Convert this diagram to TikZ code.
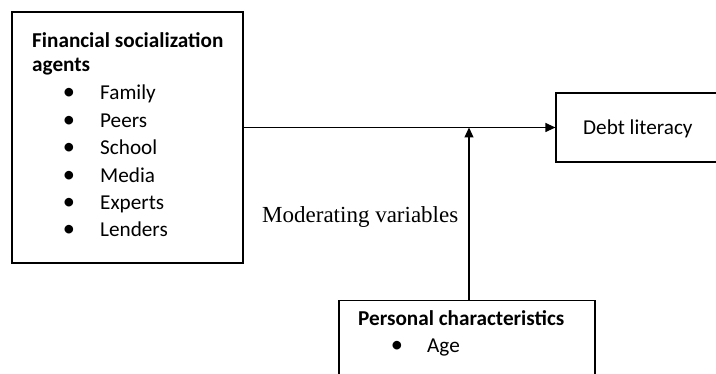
\documentclass[tikz,border=0pt]{standalone}
\usepackage{fontspec}
\setmainfont{Carlito}
\newfontfamily\timesfont{Liberation Serif}
\usetikzlibrary{arrows.meta}

\begin{document}
\begin{tikzpicture}[x=1pt,y=-1pt,
    box/.style={draw,line width=1.2pt,inner sep=0pt},
    txt/.style={anchor=base west,inner sep=0pt,font=\fontsize{21.2}{25}\selectfont},
    head/.style={txt,font=\fontsize{21.2}{25}\selectfont\bfseries},
    link/.style={line width=1.2pt,-{Triangle[length=10pt,width=9pt]}}]
    \useasboundingbox (0,0) rectangle (716,374);
    \clip (0,0) rectangle (716,374);
    % boxes
    \node[box,minimum width=231pt,minimum height=251pt] (agents) at (127.5,137.5) {};
    \node[box,minimum width=174pt,minimum height=69pt] (debtbox) at (643,127.5) {};
    \node[box,minimum width=256pt,minimum height=119pt] (pcbox) at (467,360) {};
    % texts
    \node[head] (agtitle) at (32,48) {Financial socialization};
    \node[head] (agtitle2) at (32,72) {agents};
    \foreach \name [count=\i from 0] in {Family,Peers,School,Media,Experts,Lenders} {
      \node[txt,anchor=base,scale=1.15] (bul\i) at (69,{100+27.4*\i}) {•};
      \node[txt] (item\i) at (100,{100+27.4*\i}) {\name};
    }
    \node[txt] (debt) at (583,135) {Debt literacy};
    \node[anchor=base west,inner sep=0pt,font=\timesfont\fontsize{23}{26}\selectfont] (modvar) at (262,223) {Moderating variables};
    \node[head] (pctitle) at (358,326) {Personal characteristics};
    \node[txt,anchor=base,scale=1.15] (pcbul) at (397,353) {•};
    \node[txt] (age) at (427,353) {Age};
    % connectors
    \coordinate (join) at (469,127.5);
    \draw[link] (agents.east |- debtbox.west) -- (debtbox.west);
    \draw[link] (pcbox.north -| join) -- (join);
\end{tikzpicture}
\end{document}
